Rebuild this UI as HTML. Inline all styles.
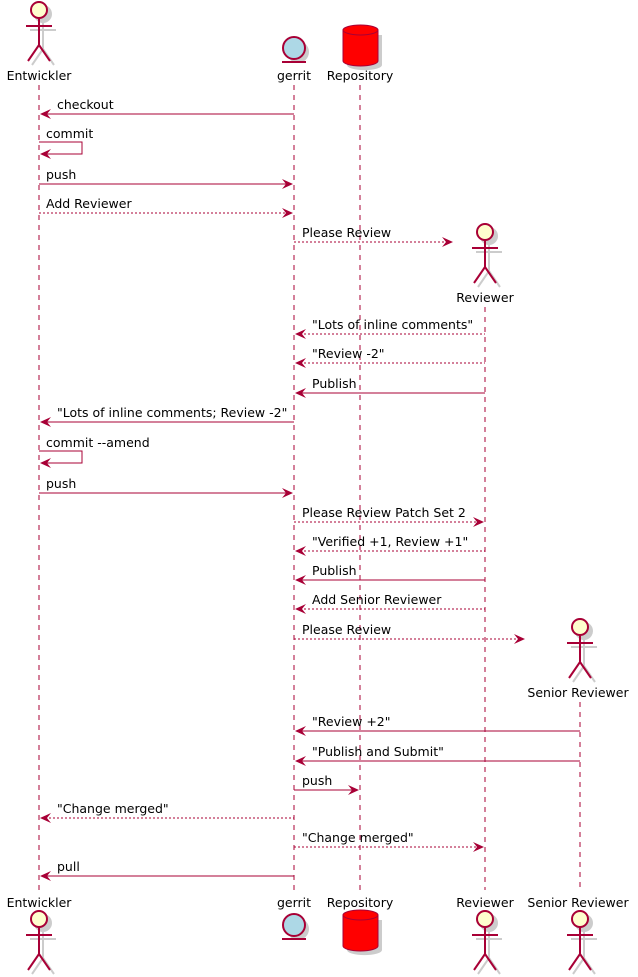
<!DOCTYPE html>
<html><head><meta charset="utf-8"><style>
html,body{margin:0;padding:0;background:#fff;}
svg{display:block;}
text{font-family:"DejaVu Sans","Liberation Sans",sans-serif;font-size:12.5px;fill:#000;}
</style></head><body>
<svg width="638" height="977" viewBox="0 0 638 977" xmlns="http://www.w3.org/2000/svg">
<defs>
<g id="act">
 <g transform="translate(4,4)" stroke="#ccc" stroke-width="2" fill="#ccc">
  <circle cx="0" cy="0" r="8"/>
  <line x1="0" y1="8" x2="0" y2="35"/><line x1="-13" y1="16" x2="13" y2="16"/>
  <line x1="0" y1="35" x2="-11" y2="51"/><line x1="0" y1="35" x2="11" y2="51"/>
 </g>
 <g stroke="#A80036" stroke-width="2" fill="#FEFECE">
  <circle cx="0" cy="0" r="8"/>
  <line x1="0" y1="8" x2="0" y2="35"/><line x1="-13" y1="16" x2="13" y2="16"/>
  <line x1="0" y1="35" x2="-11" y2="51"/><line x1="0" y1="35" x2="11" y2="51"/>
 </g>
</g>
<g id="ent">
 <circle cx="4" cy="4" r="11" fill="#ccc"/>
 <circle cx="0" cy="0" r="11" fill="#ADD8E6" stroke="#A80036" stroke-width="2"/>
 <line x1="-12" y1="14" x2="12" y2="14" stroke="#A80036" stroke-width="2"/>
</g>
<g id="db">
 <path d="M4,10 v30 a17,5 0 0 0 35,0 v-30" fill="#ccc"/>
 <path d="M0,5 a17.5,5 0 0 1 35,0 v31 a17.5,5 0 0 1 -35,0 z" fill="#FF0000" stroke="#A80036" stroke-width="1"/>
 <path d="M0,5 a17.5,5 0 0 0 35,0" fill="none" stroke="#A80036" stroke-width="1"/>
</g>
<g id="al"><polygon points="0,0 11,-5 7,0 11,5" fill="#A80036"/></g>
<g id="ar"><polygon points="0,0 -11,-5 -7,0 -11,5" fill="#A80036"/></g>
</defs>

<g stroke="#A80036" stroke-width="1" stroke-dasharray="5,5">
 <line x1="39" y1="85" x2="39" y2="890"/>
 <line x1="294" y1="85" x2="294" y2="890"/>
 <line x1="360" y1="85" x2="360" y2="890"/>
 <line x1="485" y1="307" x2="485" y2="890"/>
 <line x1="580" y1="702" x2="580" y2="890"/>
</g>

<use href="#act" x="39" y="10"/>
<text x="39" y="80" text-anchor="middle">Entwickler</text>
<use href="#ent" x="294" y="48"/>
<text x="294" y="80" text-anchor="middle">gerrit</text>
<use href="#db" x="343" y="25"/>
<text x="360" y="80" text-anchor="middle">Repository</text>
<use href="#act" x="485" y="232"/>
<text x="485" y="302" text-anchor="middle">Reviewer</text>
<use href="#act" x="580" y="627"/>
<text x="578" y="697" text-anchor="middle">Senior Reviewer</text>

<text x="39" y="907" text-anchor="middle">Entwickler</text>
<use href="#act" x="39" y="919"/>
<text x="294" y="907" text-anchor="middle">gerrit</text>
<use href="#ent" x="294" y="925"/>
<text x="360" y="907" text-anchor="middle">Repository</text>
<use href="#db" x="343" y="910"/>
<text x="485" y="907" text-anchor="middle">Reviewer</text>
<use href="#act" x="485" y="919"/>
<text x="578" y="907" text-anchor="middle">Senior Reviewer</text>
<use href="#act" x="580" y="919"/>

<g stroke="#A80036" stroke-width="1" fill="none">
 <line x1="41" y1="114" x2="294" y2="114"/>
 <polyline points="39,142 82,142 82,154 41,154"/>
 <line x1="39" y1="184" x2="292" y2="184"/>
 <line x1="39" y1="213" x2="292" y2="213" stroke-dasharray="2,2"/>
 <line x1="294" y1="242" x2="451" y2="242" stroke-dasharray="2,2"/>
 <line x1="296" y1="334" x2="485" y2="334" stroke-dasharray="2,2"/>
 <line x1="296" y1="363" x2="485" y2="363" stroke-dasharray="2,2"/>
 <line x1="296" y1="393" x2="485" y2="393"/>
 <line x1="41" y1="422" x2="294" y2="422"/>
 <polyline points="39,451 82,451 82,463 41,463"/>
 <line x1="39" y1="493" x2="292" y2="493"/>
 <line x1="294" y1="522" x2="483" y2="522" stroke-dasharray="2,2"/>
 <line x1="296" y1="551" x2="485" y2="551" stroke-dasharray="2,2"/>
 <line x1="296" y1="580" x2="485" y2="580"/>
 <line x1="296" y1="609" x2="485" y2="609" stroke-dasharray="2,2"/>
 <line x1="294" y1="639" x2="523" y2="639" stroke-dasharray="2,2"/>
 <line x1="296" y1="731" x2="580" y2="731"/>
 <line x1="296" y1="761" x2="580" y2="761"/>
 <line x1="294" y1="790" x2="358" y2="790"/>
 <line x1="41" y1="818" x2="294" y2="818" stroke-dasharray="2,2"/>
 <line x1="294" y1="847" x2="483" y2="847" stroke-dasharray="2,2"/>
 <line x1="41" y1="876" x2="294" y2="876"/>
</g>
<use href="#al" x="40" y="114"/>
<use href="#al" x="40" y="154"/>
<use href="#ar" x="293" y="184"/>
<use href="#ar" x="293" y="213"/>
<use href="#ar" x="453" y="242"/>
<use href="#al" x="295" y="334"/>
<use href="#al" x="295" y="363"/>
<use href="#al" x="295" y="393"/>
<use href="#al" x="40" y="422"/>
<use href="#al" x="40" y="463"/>
<use href="#ar" x="293" y="493"/>
<use href="#ar" x="484" y="522"/>
<use href="#al" x="295" y="551"/>
<use href="#al" x="295" y="580"/>
<use href="#al" x="295" y="609"/>
<use href="#ar" x="525" y="639"/>
<use href="#al" x="295" y="731"/>
<use href="#al" x="295" y="761"/>
<use href="#ar" x="359" y="790"/>
<use href="#al" x="40" y="818"/>
<use href="#ar" x="484" y="847"/>
<use href="#al" x="40" y="876"/>

<text x="57" y="109">checkout</text>
<text x="46" y="138">commit</text>
<text x="46" y="179">push</text>
<text x="46" y="208">Add Reviewer</text>
<text x="302" y="237">Please Review</text>
<text x="312" y="329">"Lots of inline comments"</text>
<text x="312" y="358">"Review -2"</text>
<text x="312" y="388">Publish</text>
<text x="57" y="417">"Lots of inline comments; Review -2"</text>
<text x="46" y="447">commit --amend</text>
<text x="46" y="488">push</text>
<text x="302" y="517">Please Review Patch Set 2</text>
<text x="312" y="546">"Verified +1, Review +1"</text>
<text x="312" y="575">Publish</text>
<text x="312" y="604">Add Senior Reviewer</text>
<text x="302" y="634">Please Review</text>
<text x="312" y="726">"Review +2"</text>
<text x="312" y="756">"Publish and Submit"</text>
<text x="302" y="785">push</text>
<text x="57" y="813">"Change merged"</text>
<text x="302" y="842">"Change merged"</text>
<text x="57" y="871">pull</text>
</svg>
</body></html>
